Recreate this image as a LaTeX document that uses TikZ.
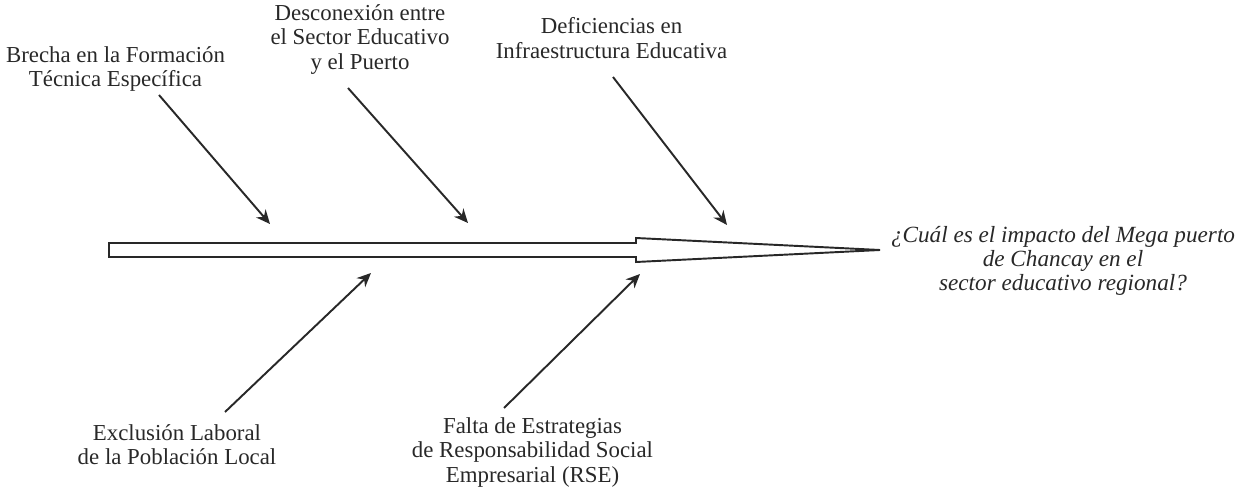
\documentclass[tikz,border=0pt]{standalone}
\usepackage{fontspec}
\setmainfont{Liberation Serif}
\usetikzlibrary{
  arrows.meta,
  positioning
}
\usepackage{xcolor}
\definecolor{ink}{RGB}{40,40,40}

\begin{document}
\begin{tikzpicture}[
  every node/.style={font=\fontsize{13}{13.8}\selectfont, text=ink, align=center},
  pregunta/.style={font=\fontsize{13.2}{13.6}\selectfont\itshape},
  flecha/.style={-{Stealth[length=0.28cm, width=0.25cm]}, line width=1.1pt, draw=ink},
  >=Stealth
]

\useasboundingbox (0, 0) rectangle (24.86, -9.82);

% Causas arriba
\node (brecha) at (2.31, -1.38) {Brecha en la Formación\\Técnica Específica};
\node (desconexion) at (7.20, -0.79) {Desconexión entre\\el Sector Educativo\\y el Puerto};
\node (deficiencias) at (12.23, -0.76) {Deficiencias en\\Infraestructura Educativa};

% Causas abajo
\node (exclusion) at (3.54, -8.90) {Exclusión Laboral\\de la Población Local};
\node (falta) at (10.65, -9.05) {Falta de Estrategias\\de Responsabilidad Social\\Empresarial (RSE)};

% Efecto
\node[pregunta] (efecto) at (21.26, -5.22)
  {¿Cuál es el impacto del Mega puerto\\de Chancay en el\\sector educativo regional?};

% Espina central
\draw[line width=1.1pt, draw=ink, fill=white, line join=miter]
  (2.18, -4.86) -- (12.72, -4.86) -- (12.72, -4.76) -- (17.60, -5.00)
  -- (12.72, -5.24) -- (12.72, -5.14) -- (2.18, -5.14) -- cycle;

% Puntos de las flechas
\coordinate (b0) at (3.18, -1.90);
\coordinate (b1) at (5.40, -4.48);
\coordinate (d0) at (6.96, -1.76);
\coordinate (d1) at (9.36, -4.46);
\coordinate (i0) at (12.26, -1.54);
\coordinate (i1) at (14.54, -4.50);
\coordinate (e0) at (4.50, -8.24);
\coordinate (e1) at (7.42, -5.46);
\coordinate (f0) at (10.08, -8.16);
\coordinate (f1) at (12.80, -5.48);

\draw[flecha] (b0) -- (b1);
\draw[flecha] (d0) -- (d1);
\draw[flecha] (i0) -- (i1);
\draw[flecha] (e0) -- (e1);
\draw[flecha] (f0) -- (f1);

\end{tikzpicture}
\end{document}
